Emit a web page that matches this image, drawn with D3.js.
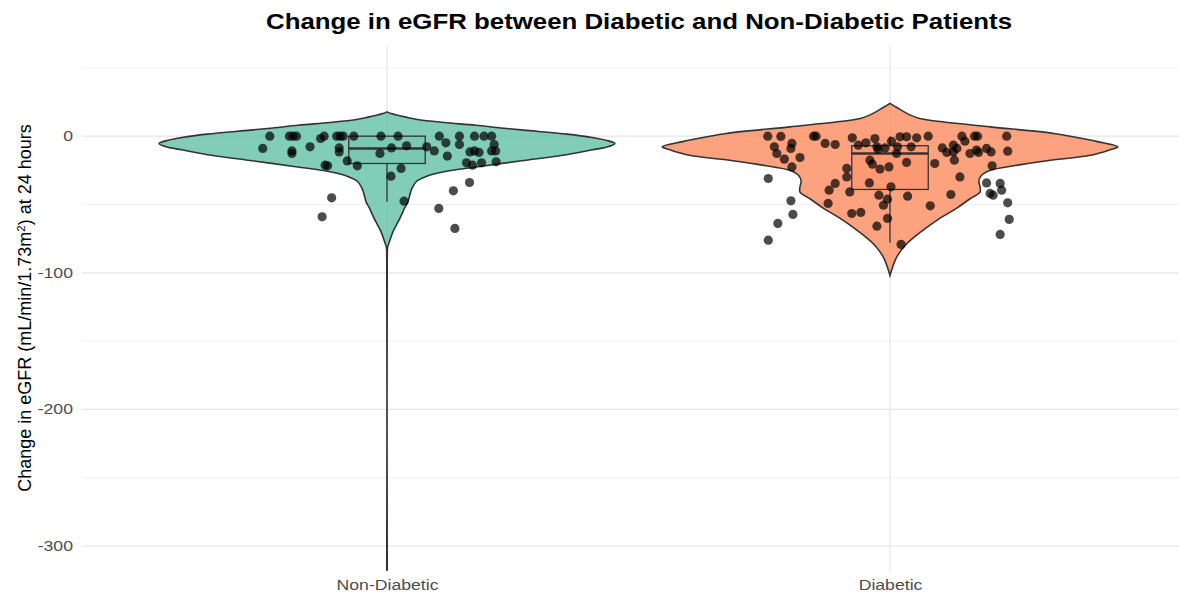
<!DOCTYPE html>
<html>
<head>
<meta charset="utf-8">
<script src="https://cdn.jsdelivr.net/npm/d3@7"></script>
<style>
  body { margin: 0; background: #fff; }
  svg text { font-family: "Liberation Sans", Arial, sans-serif; }
</style>
</head>
<body>
<div id="container"></div>
<script>
// categories and colours
const groups = ["Non-Diabetic", "Diabetic"];
const groupColors = ["#66c2a5", "#fc8d62"];

const yTicks = [0, -100, -200, -300];
const yMinor = [50, -50, -150, -250];

// violin outline: value and relative density (max = 1)
const nonDiabViolinV = [17.8, 16.6, 13.7, 12, 10, 8, 6, 4.4, 1.5, -1, -3, -5.3, -8, -10, -14, -18, -22.4, -26, -29, -33, -38, -43, -48, -52, -60, -70, -78, -81, -90, -317.5];
const nonDiabViolinD = [0, 0.018, 0.09, 0.14, 0.25, 0.39, 0.5, 0.6, 0.79, 0.9, 0.96, 1, 0.965, 0.9, 0.77, 0.59, 0.4, 0.25, 0.18, 0.13, 0.11, 0.1, 0.092, 0.079, 0.057, 0.026, 0.009, 0.003, 0.001, 0.001];
const diabViolinV = [24, 21, 18, 15.4, 13, 10.5, 6.8, 2, -1, -4, -7.8, -10, -14, -18, -21.5, -25, -29, -33, -37, -41, -46, -53, -60, -67, -72, -80, -88, -95, -102];
const diabViolinD = [0, 0.03, 0.06, 0.09, 0.13, 0.23, 0.44, 0.72, 0.82, 0.91, 1, 0.965, 0.88, 0.69, 0.55, 0.44, 0.4, 0.39, 0.395, 0.395, 0.35, 0.29, 0.22, 0.16, 0.12, 0.066, 0.031, 0.013, 0];

// box stats: lower whisker, Q1, median, Q3, upper whisker
const nonDiabBox = [-48, -20, -9, 0, 0];
const diabBox = [-78, -39, -12.7, -7, 0];

// jittered points: horizontal jitter (category units) and eGFR change
const nonDiabJitter = [-0.233, -0.247, -0.194, -0.187, -0.180, -0.189, -0.189, -0.153, -0.132, -0.125, -0.100, -0.093, -0.087, -0.066, -0.095, -0.095, -0.123, -0.118, -0.079, -0.059, -0.110, -0.129, -0.014, -0.012, 0.022, 0.009, 0.039, 0.079, 0.094, 0.028, 0.008, 0.034, 0.104, 0.117, 0.120, 0.144, 0.144, 0.174, 0.193, 0.208, 0.213, 0.165, 0.174, 0.183, 0.208, 0.216, 0.158, 0.170, 0.188, 0.217, 0.164, 0.132, 0.103, 0.135];
const nonDiabValues = [0, -9.0, 0, 0, 0, -10.8, -12.7, -7.8, -1.7, 0, 0, 0, 0, 0, -8.6, -11.5, -21.2, -21.7, -18.1, -21.7, -45.1, -59.0, -12.7, 0, 0, -8.6, -7.1, -7.8, -10.8, -23.6, -29.3, -47.6, 0, -4.9, -14.6, 0, -6.1, 0, 0, 0, -6.1, -11.5, -10.8, -11.9, -10.8, -10.8, -19.5, -21.2, -19.5, -18.8, -33.9, -40.0, -52.9, -67.5];
const diabJitter = [-0.243, -0.217, -0.230, -0.225, -0.210, -0.195, -0.197, -0.179, -0.195, -0.152, -0.147, -0.129, -0.109, -0.075, -0.242, -0.197, -0.193, -0.223, -0.242, -0.086, -0.086, -0.109, -0.121, -0.080, -0.123, -0.076, -0.058, -0.026, -0.041, -0.040, -0.035, -0.020, -0.002, -0.063, -0.048, -0.030, -0.026, -0.024, -0.010, 0.002, -0.022, -0.013, -0.005, -0.005, 0.003, 0.020, 0.033, 0.053, 0.076, 0.015, 0.042, 0.013, 0.033, 0.089, 0.035, 0.080, 0.022, 0.104, 0.113, 0.126, 0.133, 0.126, 0.143, 0.149, 0.168, 0.174, 0.128, 0.139, 0.121, 0.159, 0.176, 0.172, 0.192, 0.201, 0.203, 0.232, 0.234, 0.192, 0.219, 0.199, 0.205, 0.222, 0.234, 0.237, 0.219];
const diabValues = [0, -0.2, -7.8, -12.7, -16.8, -5.3, -9.0, -15.6, -22.5, 0, 0, -5.3, -6.1, -1.2, -31.0, -47.3, -57.3, -63.9, -76.1, -23.6, -29.8, -34.6, -39.5, -40.8, -49.2, -56.6, -55.8, -65.9, -34.2, -17.6, -20.5, -24.1, -22.5, -6.6, -4.9, -1.7, -7.8, -9.5, -8.6, -37.1, -43.2, -50.5, -46.1, -60.2, -3.7, -0.5, -0.5, -1.2, 0, -7.8, -7.8, -12.7, -19.2, -20.0, -43.9, -51.0, -79.2, -8.6, -11.9, -6.6, -9.0, -11.5, 0, -3.7, 0, 0, -17.6, -29.8, -42.7, -12.7, -11.9, -10.2, -9.0, -11.5, -21.7, 0, -11.0, -34.2, -34.6, -41.9, -43.2, -39.5, -48.8, -60.9, -71.9];

function draw() {
    const width = 1179;
    const height = 592;

    const panelTop = 46;
    const panelBottom = 572;
    const panelLeft = 82;

    const violinHalf = 0.453;   // max half width, category units
    const boxHalf = 0.076;
    const stretch = 1.26;       // reference text is a bit wide

    const svg = d3.select('#container')
        .append('svg')
        .attr('width', width)
        .attr('height', height);

    const x = d3.scaleLinear()
        .domain([0.4, 2.6])
        .range([85.2, 1191.8]);

    const y = d3.scaleLinear()
        .domain([-319, 66])
        .range([panelBottom, panelTop]);

    // grid
    const grid = svg.append("g");
    grid.selectAll(".minor")
        .data(yMinor)
        .join("line")
        .attr("x1", panelLeft)
        .attr("x2", width)
        .attr("y1", d => y(d))
        .attr("y2", d => y(d))
        .attr("stroke", "#ededed")
        .attr("stroke-width", 0.8);
    grid.selectAll(".major")
        .data(yTicks)
        .join("line")
        .attr("x1", panelLeft)
        .attr("x2", width)
        .attr("y1", d => y(d))
        .attr("y2", d => y(d))
        .attr("stroke", "#e6e6e6")
        .attr("stroke-width", 1.3);
    grid.selectAll(".vert")
        .data(groups)
        .join("line")
        .attr("x1", (d, i) => x(i + 1))
        .attr("x2", (d, i) => x(i + 1))
        .attr("y1", panelTop)
        .attr("y2", panelBottom)
        .attr("stroke", "#e6e6e6")
        .attr("stroke-width", 1.3);

    function widen(sel) {
        sel.each(function() {
            const len = this.getComputedTextLength();
            d3.select(this)
                .attr("textLength", len * stretch)
                .attr("lengthAdjust", "spacingAndGlyphs");
        });
    }

    // axes labels
    const yAxis = d3.axisLeft(y).tickValues(yTicks).tickFormat(d => String(d)).tickSize(0).tickPadding(0);
    const yg = svg.append("g")
        .attr("transform", `translate(${73},0)`)
        .call(yAxis);
    yg.select(".domain").remove();
    yg.selectAll("text")
        .attr("fill", "#4d4d4d")
        .style("font-size", "14px")
        .style("font-family", "Liberation Sans, Arial, sans-serif")
        .call(widen);

    const xAxis = d3.axisBottom(x).tickValues([1, 2]).tickFormat(d => groups[d - 1]).tickSize(0).tickPadding(0);
    const xg = svg.append("g")
        .attr("transform", `translate(0,${580})`)
        .call(xAxis);
    xg.select(".domain").remove();
    xg.selectAll("text")
        .attr("fill", "#4d4d4d")
        .style("font-size", "14px")
        .style("font-family", "Liberation Sans, Arial, sans-serif")
        .call(widen);

    const violins = [
        { v: nonDiabViolinV, d: nonDiabViolinD, box: nonDiabBox, jx: nonDiabJitter, vals: nonDiabValues },
        { v: diabViolinV, d: diabViolinD, box: diabBox, jx: diabJitter, vals: diabValues }
    ];

    violins.forEach((g, i) => {
        const pos = i + 1;
        const pts = g.v.map((v, k) => ({ v: v, d: g.d[k] }));
        const area = d3.area()
            .y(p => y(p.v))
            .x0(p => x(pos - p.d * violinHalf))
            .x1(p => x(pos + p.d * violinHalf))
            .curve(d3.curveCatmullRom.alpha(0.5));

        svg.append("path")
            .datum(pts)
            .attr("d", area)
            .attr("fill", groupColors[i])
            .attr("fill-opacity", 0.82)
            .attr("stroke", "#333")
            .attr("stroke-width", 1.6);

        // boxplot
        const b = g.box;
        const bx = svg.append("g");
        bx.append("line")
            .attr("x1", x(pos)).attr("x2", x(pos))
            .attr("y1", y(b[0])).attr("y2", y(b[1]))
            .attr("stroke", "#333").attr("stroke-width", 1.3);
        bx.append("line")
            .attr("x1", x(pos)).attr("x2", x(pos))
            .attr("y1", y(b[3])).attr("y2", y(b[4]))
            .attr("stroke", "#333").attr("stroke-width", 1.3);
        bx.append("rect")
            .attr("x", x(pos - boxHalf))
            .attr("width", x(pos + boxHalf) - x(pos - boxHalf))
            .attr("y", y(b[3]))
            .attr("height", y(b[1]) - y(b[3]))
            .attr("fill", groupColors[i])
            .attr("fill-opacity", 0.35)
            .attr("stroke", "#333")
            .attr("stroke-width", 1.3);
        bx.append("line")
            .attr("x1", x(pos - boxHalf)).attr("x2", x(pos + boxHalf))
            .attr("y1", y(b[2])).attr("y2", y(b[2]))
            .attr("stroke", "#333").attr("stroke-width", 2.6);

        // jitter points
        svg.append("g")
            .selectAll("circle")
            .data(g.vals)
            .join("circle")
            .attr("cx", (d, k) => x(pos + g.jx[k]))
            .attr("cy", d => y(d))
            .attr("r", 4.6)
            .attr("fill", "#000")
            .attr("fill-opacity", 0.7);
    });

    svg.append("text")
        .text("Change in eGFR between Diabetic and Non-Diabetic Patients")
        .attr("x", 639)
        .attr("y", 28.5)
        .attr("text-anchor", "middle")
        .attr("textLength", 746)
        .attr("lengthAdjust", "spacingAndGlyphs")
        .style("font-size", "21.5px")
        .style("font-weight", "bold")
        .attr("fill", "#000");

    const ytitle = svg.append("text")
        .attr("transform", `translate(${31},${308}) rotate(-90)`)
        .attr("text-anchor", "middle")
        .style("font-size", "18px")
        .attr("fill", "#000");
    ytitle.append("tspan").text("Change in eGFR (mL/min/1.73m");
    ytitle.append("tspan").text("2").attr("dy", -6).style("font-size", "11.5px");
    ytitle.append("tspan").text(") at 24 hours").attr("dy", 6);
}
draw();
</script>
</body>
</html>
